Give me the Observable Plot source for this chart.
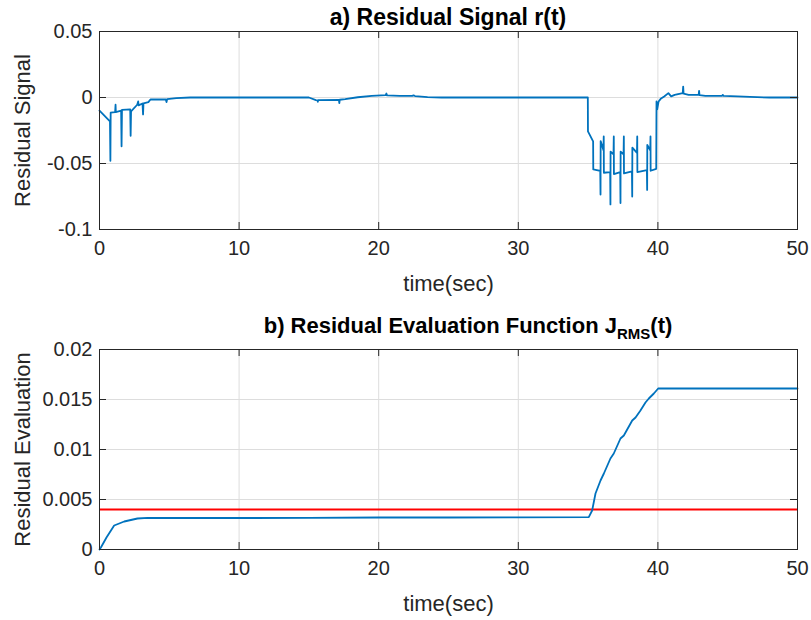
<!DOCTYPE html>
<html><head><meta charset="utf-8">
<script src="https://cdn.jsdelivr.net/npm/d3@7"></script>
<script src="https://cdn.jsdelivr.net/npm/@observablehq/plot@0.6"></script>
<style>
body{margin:0;background:#fff;font-family:"Liberation Sans",Arial,Helvetica,sans-serif;}
#wrap{position:relative;width:811px;height:620px;overflow:hidden;}
.title{position:absolute;left:99px;width:698px;text-align:center;font-weight:bold;font-size:22px;color:#000;line-height:22px;z-index:2;white-space:nowrap;box-sizing:border-box;}
.title sub{font-size:15px;vertical-align:-6px;line-height:0;}
#p1{position:absolute;left:0;top:0;}
#p2{position:absolute;left:0;top:310px;}
</style></head><body>
<div id="wrap">
<div id="p1"></div><div id="p2"></div>
<div class="title" style="top:6px;font-size:23px;">a) Residual Signal r(t)</div>
<div class="title" style="top:315px;padding-left:40px;">b) Residual Evaluation Function J<sub>RMS</sub>(t)</div>
</div>
<script>
// ---- data ----
const xTicks = [0, 10, 20, 30, 40, 50];
const xTickLabels = ["0", "10", "20", "30", "40", "50"];
const rTicks = [-0.1, -0.05, 0, 0.05];
const rTickLabels = ["-0.1", "-0.05", "0", "0.05"];
const jTicks = [0, 0.005, 0.01, 0.015, 0.02];
const jTickLabels = ["0", "0.005", "0.01", "0.015", "0.02"];

const rTime = [0, 0.75, 0.78, 0.80, 1.12, 1.15, 1.17, 1.55, 1.58, 1.61, 2.20, 2.23, 2.26, 2.70, 2.77, 2.80, 3.08, 3.12, 3.15, 3.50, 3.65, 4.75, 4.80, 4.85, 5.5, 6.5,
  15.0, 15.5, 15.62, 15.64, 15.66, 17.15, 17.18, 17.21, 17.6, 18.5, 19.5, 20.5, 20.55, 20.6, 21.5, 22.4, 22.5, 22.6, 23.5, 24.5,
  34.98, 34.99, 35.36, 35.37, 35.87, 35.89, 35.90, 36.10, 36.12, 36.13, 36.58, 36.60, 36.61, 36.82, 36.84, 36.85,
  37.30, 37.32, 37.33, 37.54, 37.56, 37.57, 38.14, 38.16, 38.17, 38.50, 38.52, 38.53, 39.21, 39.23, 39.24, 39.45, 39.47, 39.48,
  39.88, 39.90, 39.95, 40.05, 40.2, 40.45, 40.75, 40.95, 41.2, 41.78, 41.81, 41.84, 42.2, 42.92, 42.95, 42.98, 43.4, 44.6, 44.65, 44.7, 45.7, 46.6, 48, 50];
const rValue = [-0.0100, -0.0180, -0.0480, -0.0115, -0.0110, -0.0055, -0.0110, -0.0100, -0.0370, -0.0093, -0.0090, -0.0290, -0.0105, -0.0055, -0.0030, -0.0060, -0.0045, -0.0128, -0.0045, -0.0035, -0.0015, -0.0015, -0.0035, -0.0012, -0.0005, 0,
  0, -0.0020, -0.0022, -0.0032, -0.0020, -0.0018, -0.0042, -0.0017, -0.0012, 0.0002, 0.0012, 0.0018, 0.0030, 0.0016, 0.0012, 0.0012, 0.0016, 0.0011, 0.0003, 0,
  0, -0.0257, -0.0332, -0.0545, -0.0555, -0.0735, -0.0330, -0.0400, -0.0295, -0.0570, -0.0565, -0.0810, -0.0410, -0.0430, -0.0295, -0.0580,
  -0.0565, -0.0800, -0.0410, -0.0430, -0.0295, -0.0575, -0.0560, -0.0750, -0.0380, -0.0420, -0.0295, -0.0565, -0.0550, -0.0700, -0.0360, -0.0400, -0.0295, -0.0555,
  -0.0540, -0.0030, -0.0090, -0.0030, -0.0010, 0.0008, 0.0033, 0.0008, 0.0020, 0.0033, 0.0083, 0.0030, 0.0020, 0.0020, 0.0050, 0.0018, 0.0013, 0.0013, 0.0020, 0.0012, 0.0008, 0.0004, 0, 0];

const jTime = [0, 0.1, 0.5, 1.05, 1.77, 2.72, 3.44, 5, 10, 15, 20, 25, 30, 35.05, 35.29, 35.53, 35.89, 36.13, 36.6, 36.84, 37.32, 37.56, 38.16, 38.4, 38.75, 39.11, 39.35, 39.71, 40.02, 45, 50];
const jValue = [0, 0.0002, 0.0012, 0.0024, 0.0028, 0.0031, 0.00316, 0.00315, 0.00315, 0.00316, 0.0032, 0.0032, 0.00322, 0.00323, 0.0039, 0.0056, 0.0069, 0.0076, 0.0091, 0.0096, 0.0111, 0.0114, 0.0129, 0.0132, 0.0139, 0.0147, 0.0151, 0.0156, 0.0161, 0.0161, 0.0161];
const threshold = 0.004;

// ---- drawing ----
const FONT = '"Liberation Sans", Arial, Helvetica, sans-serif';
const W = 811, ML = 99, MR = 14;
const frameW = W - ML - MR;
const AX = "#262626", GRID = "#dddddd", BLUE = "#0072BD";

function panel(o) {
  const fh = o.height - o.mt - o.mb;
  const tk = 7;
  const xf = d => xTickLabels[xTicks.indexOf(d)];
  const yf = d => o.yLabels[o.yTicks.indexOf(d)];
  return Plot.plot({
    width: W, height: o.height,
    marginLeft: ML, marginRight: MR, marginTop: o.mt, marginBottom: o.mb,
    style: {fontFamily: FONT, fontSize: "20px", color: AX, background: "transparent", overflow: "visible"},
    x: {domain: [0, 50]},
    y: {domain: o.yDomain},
    marks: [
      Plot.gridX(xTicks, {stroke: GRID, strokeOpacity: 1, strokeWidth: 1}),
      Plot.gridY(o.yTicks, {stroke: GRID, strokeOpacity: 1, strokeWidth: 1}),
      ...o.marks,
      Plot.frame({stroke: AX, strokeWidth: 1}),
      Plot.ruleX(xTicks, {stroke: AX, insetTop: fh - tk}),
      Plot.ruleX(xTicks, {stroke: AX, insetBottom: fh - tk}),
      Plot.ruleY(o.yTicks, {stroke: AX, insetRight: frameW - tk}),
      Plot.ruleY(o.yTicks, {stroke: AX, insetLeft: frameW - tk}),
      Plot.axisX(xTicks, {tickSize: 0, tickPadding: 11, tickFormat: xf, label: null, fontSize: 20, fill: AX}),
      Plot.axisY(o.yTicks, {tickSize: 0, tickPadding: 7, tickFormat: yf, label: null, fontSize: 20, fill: AX}),
      Plot.text(["time(sec)"], {frameAnchor: "bottom", dy: 54, lineAnchor: "middle", fontSize: 22, fill: AX}),
      Plot.text([o.ylabel], {frameAnchor: "left", dx: -77, rotate: -90, textAnchor: "middle", lineAnchor: "middle", fontSize: 22, fill: AX})
    ]
  });
}

const rData = rTime.map((t, i) => ({t, v: rValue[i]}));
const jData = jTime.map((t, i) => ({t, v: jValue[i]}));

document.getElementById("p1").append(panel({
  height: 310, mt: 31, mb: 81,
  yDomain: [-0.1, 0.05], yTicks: rTicks, yLabels: rTickLabels,
  ylabel: "Residual Signal",
  marks: [Plot.line(rData, {x: "t", y: "v", stroke: BLUE, strokeWidth: 1.8})]
}));

document.getElementById("p2").append(panel({
  height: 310, mt: 39, mb: 71,
  yDomain: [0, 0.02], yTicks: jTicks, yLabels: jTickLabels,
  ylabel: "Residual Evaluation",
  marks: [
    Plot.ruleY([threshold], {stroke: "#ff0000", strokeWidth: 2}),
    Plot.line(jData, {x: "t", y: "v", stroke: BLUE, strokeWidth: 1.8})
  ]
}));
</script>
</body></html>
